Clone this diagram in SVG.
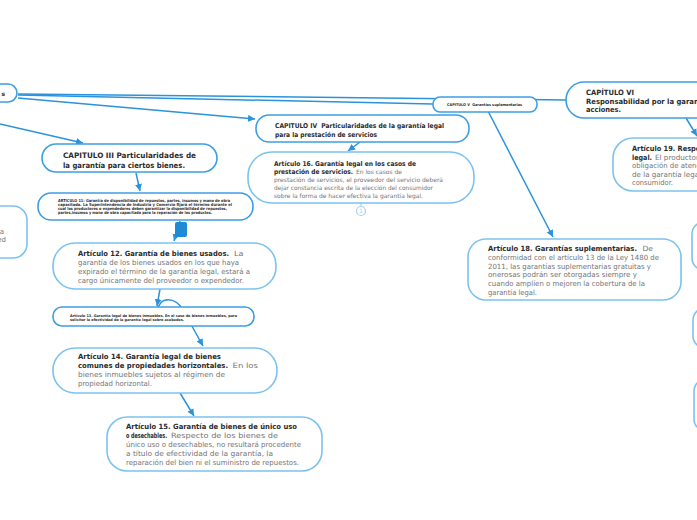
<svg xmlns="http://www.w3.org/2000/svg" width="697" height="520" viewBox="0 0 697 520">
<defs>
<marker id="ah" markerUnits="userSpaceOnUse" markerWidth="8" markerHeight="8" refX="7" refY="3.5" orient="auto"><path d="M0,0 L7,3.5 L0,7 z" fill="#2a93dc"/></marker>
<style>
.cap{fill:#fff;stroke:#3d9fe2;stroke-width:1.6}
.art{fill:#fff;stroke:#7cc2f0;stroke-width:1.6}
.c{fill:none;stroke:#2a93dc;stroke-width:1.5}
text{font-family:"DejaVu Sans","Liberation Sans",sans-serif}
.b{font-weight:bold;fill:#2b2b2b}
.r{fill:#747474}
</style>
</defs>
<rect width="697" height="520" fill="#fff"/>
<g id="connectors">
<path class="c" d="M18,94 L566,100" stroke-width="2"/>
<path class="c" d="M18,95 L433,104" stroke-width="2"/>
<path class="c" d="M18,98 L255,119" marker-end="url(#ah)"/>
<path class="c" d="M0,124 L83,143" marker-end="url(#ah)"/>
<path class="c" d="M136,173 L140,191" marker-end="url(#ah)"/>
<path class="c" d="M180,221 L174,241" marker-end="url(#ah)"/>
<path class="c" d="M160,289 L157,306" marker-end="url(#ah)"/>
<path class="c" d="M157,312 C159,295 176,297 183,310 L203,346" marker-end="url(#ah)"/>
<path class="c" d="M180,393 L194,416" marker-end="url(#ah)"/>
<path class="c" d="M360,142 L348,151" marker-end="url(#ah)"/>
<path class="c" d="M488,111 L553,237" marker-end="url(#ah)"/>
<path class="c" d="M686,118 L697,136" marker-end="url(#ah)"/>
<path d="M361,203 L361,206" stroke="#9fd2f3" stroke-width="1.2"/>
</g>
<g id="root">
<rect class="cap" x="-40" y="84" width="57" height="18" rx="9"/>
<text class="b" x="5" y="96" font-size="6" text-anchor="end">s</text>
</g>
<g id="left-node">
<rect class="art" x="-40" y="206" width="67" height="52" rx="14"/>
<text class="r" x="4" y="234" font-size="7" text-anchor="end">a</text>
<text class="r" x="6" y="242" font-size="7" text-anchor="end">ed</text>
</g>
<g id="cap3">
<rect class="cap" x="42" y="144" width="175" height="28" rx="14"/>
<text class="b" x="63" y="158" font-size="7.5" textLength="133" lengthAdjust="spacingAndGlyphs">CAPITULO III Particularidades de</text>
<text class="b" x="63" y="168" font-size="7.5" textLength="122" lengthAdjust="spacingAndGlyphs">la garantía para ciertos bienes.</text>
</g>
<g id="art11">
<rect class="cap" x="38" y="193" width="215" height="27" rx="13"/>
<text class="b" x="58" y="201.5" font-size="4" textLength="172" lengthAdjust="spacingAndGlyphs">ARTICULO 11: Garantía de disponibilidad de repuestos, partes, insumos y mano de obra</text>
<text class="b" x="58" y="205.5" font-size="4" textLength="174" lengthAdjust="spacingAndGlyphs">capacitada. La Superintendencia de Industria y Comercio fijará el término durante el</text>
<text class="b" x="58" y="209.5" font-size="4" textLength="169" lengthAdjust="spacingAndGlyphs">cual los productores o expendedores deben garantizar la disponibilidad de repuestos,</text>
<text class="b" x="58" y="213.5" font-size="4" textLength="154" lengthAdjust="spacingAndGlyphs">partes,insumos y mano de obra capacitada para la reparación de los productos.</text>
<rect x="175" y="222" width="12" height="15" rx="2" fill="#1e8ad6"/>
</g>
<g id="art12">
<rect class="art" x="53" y="243" width="223" height="46" rx="22"/>
<text class="b" x="78" y="256" font-size="7.2" textLength="151" lengthAdjust="spacingAndGlyphs">Artículo 12. Garantía de bienes usados.</text>
<text class="r" x="234" y="256" font-size="7.2" textLength="9.5" lengthAdjust="spacingAndGlyphs">La</text>
<text class="r" x="78" y="265" font-size="7.2" textLength="161" lengthAdjust="spacingAndGlyphs">garantía de los bienes usados en los que haya</text>
<text class="r" x="78" y="274" font-size="7.2" textLength="172" lengthAdjust="spacingAndGlyphs">expirado el término de la garantía legal, estará a</text>
<text class="r" x="78" y="283" font-size="7.2" textLength="166" lengthAdjust="spacingAndGlyphs">cargo únicamente del proveedor o expendedor.</text>
</g>
<g id="art13">
<rect class="cap" x="53" y="307" width="201" height="19" rx="9"/>
<text class="b" x="70" y="317" font-size="3.7" textLength="167" lengthAdjust="spacingAndGlyphs">Artículo 13. Garantía legal de bienes inmuebles. En el caso de bienes inmuebles, para</text>
<text class="b" x="70" y="321" font-size="3.7" textLength="114" lengthAdjust="spacingAndGlyphs">solicitar la efectividad de la garantía legal sobre acabados.</text>
</g>
<g id="art14">
<rect class="art" x="53" y="348" width="224" height="45" rx="22"/>
<text class="b" x="78" y="359" font-size="7.2" textLength="143" lengthAdjust="spacingAndGlyphs">Artículo 14. Garantía legal de bienes</text>
<text class="b" x="78" y="368" font-size="7.2" textLength="150" lengthAdjust="spacingAndGlyphs">comunes de propiedades horizontales.</text>
<text class="r" x="232.5" y="368" font-size="7.2" textLength="25.5" lengthAdjust="spacingAndGlyphs">En los</text>
<text class="r" x="78" y="377" font-size="7.2" textLength="147" lengthAdjust="spacingAndGlyphs">bienes inmuebles sujetos al régimen de</text>
<text class="r" x="78" y="386" font-size="7.2" textLength="74" lengthAdjust="spacingAndGlyphs">propiedad horizontal.</text>
</g>
<g id="art15">
<rect class="art" x="107" y="417" width="215" height="54" rx="20"/>
<text class="b" x="126" y="429" font-size="7.2" textLength="171" lengthAdjust="spacingAndGlyphs">Artículo 15. Garantía de bienes de único uso</text>
<text class="b" x="126" y="438" font-size="7.2" textLength="41" lengthAdjust="spacingAndGlyphs">o desechables.</text>
<text class="r" x="171" y="438" font-size="7.2" textLength="107" lengthAdjust="spacingAndGlyphs">Respecto de los bienes de</text>
<text class="r" x="126" y="447" font-size="7.2" textLength="175" lengthAdjust="spacingAndGlyphs">único uso o desechables, no resultará procedente</text>
<text class="r" x="126" y="456" font-size="7.2" textLength="147" lengthAdjust="spacingAndGlyphs">a título de efectividad de la garantía, la</text>
<text class="r" x="126" y="465" font-size="7.2" textLength="173" lengthAdjust="spacingAndGlyphs">reparación del bien ni el suministro de repuestos.</text>
</g>
<g id="cap4">
<rect class="cap" x="256" y="115" width="213" height="27" rx="13"/>
<text class="b" x="275" y="128" font-size="6.6" textLength="169" lengthAdjust="spacingAndGlyphs">CAPITULO IV&#160; Particularidades de la garantía legal</text>
<text class="b" x="275" y="137" font-size="6.6" textLength="102" lengthAdjust="spacingAndGlyphs">para la prestación de servicios</text>
</g>
<g id="art16">
<rect class="art" x="248" y="152" width="226" height="51" rx="24"/>
<text class="b" x="274" y="166" font-size="6.6" textLength="142" lengthAdjust="spacingAndGlyphs">Artículo 16. Garantía legal en los casos de</text>
<text class="b" x="274" y="174" font-size="6.6" textLength="79" lengthAdjust="spacingAndGlyphs">prestación de servicios.</text>
<text class="r" x="356" y="174" font-size="6" textLength="46" lengthAdjust="spacingAndGlyphs">En los casos de</text>
<text class="r" x="274" y="182" font-size="6" textLength="169" lengthAdjust="spacingAndGlyphs">prestación de servicios, el proveedor del servicio deberá</text>
<text class="r" x="274" y="190" font-size="6" textLength="159" lengthAdjust="spacingAndGlyphs">dejar constancia escrita de la elección del consumidor</text>
<text class="r" x="274" y="197.5" font-size="6" textLength="149" lengthAdjust="spacingAndGlyphs">sobre la forma de hacer efectiva la garantía legal.</text>
<circle cx="361" cy="211" r="4.5" fill="#fff" stroke="#9fd2f3" stroke-width="1.2"/>
<text x="361" y="213.3" font-size="6" text-anchor="middle" fill="#9fd2f3">1</text>
</g>
<g id="cap5">
<rect class="cap" x="433" y="97" width="104" height="15" rx="7"/>
<text class="b" x="447" y="106" font-size="3.8" textLength="75" lengthAdjust="spacingAndGlyphs">CAPITULO V&#160; Garantías suplementarias</text>
</g>
<g id="art18">
<rect class="art" x="468" y="239" width="213" height="61" rx="18"/>
<text class="b" x="488" y="251" font-size="7.2" textLength="149" lengthAdjust="spacingAndGlyphs">Artículo 18. Garantías suplementarias.</text>
<text class="r" x="642.5" y="251" font-size="7.2" textLength="10.5" lengthAdjust="spacingAndGlyphs">De</text>
<text class="r" x="488" y="260" font-size="7.2" textLength="171" lengthAdjust="spacingAndGlyphs">conformidad con el artículo 13 de la Ley 1480 de</text>
<text class="r" x="488" y="268.5" font-size="7.2" textLength="163" lengthAdjust="spacingAndGlyphs">2011, las garantías suplementarias gratuitas y</text>
<text class="r" x="488" y="277" font-size="7.2" textLength="149" lengthAdjust="spacingAndGlyphs">onerosas podrán ser otorgadas siempre y</text>
<text class="r" x="488" y="286" font-size="7.2" textLength="157" lengthAdjust="spacingAndGlyphs">cuando amplíen o mejoren la cobertura de la</text>
<text class="r" x="488" y="294.5" font-size="7.2" textLength="49" lengthAdjust="spacingAndGlyphs">garantía legal.</text>
</g>
<g id="cap6">
<rect class="cap" x="566" y="82" width="160" height="36" rx="18"/>
<text class="b" x="586" y="94.5" font-size="7.3" textLength="48" lengthAdjust="spacingAndGlyphs">CAPÍTULO VI</text>
<text class="b" x="586" y="103.5" font-size="7.3" textLength="123" lengthAdjust="spacingAndGlyphs">Responsabilidad por la garantía</text>
<text class="b" x="586" y="112" font-size="7.3" textLength="35" lengthAdjust="spacingAndGlyphs">acciones.</text>
</g>
<g id="art19">
<rect class="art" x="613" y="138" width="120" height="53" rx="20"/>
<text class="b" x="632" y="151" font-size="7.2" textLength="107" lengthAdjust="spacingAndGlyphs">Artículo 19. Responsabilidad</text>
<text class="b" x="632" y="160" font-size="7.2" textLength="20" lengthAdjust="spacingAndGlyphs">legal.</text>
<text class="r" x="655" y="160" font-size="7.2" textLength="44" lengthAdjust="spacingAndGlyphs">El productor</text>
<text class="r" x="632" y="168" font-size="7.2" textLength="76" lengthAdjust="spacingAndGlyphs">obligación de atender</text>
<text class="r" x="632" y="177" font-size="7.2" textLength="69" lengthAdjust="spacingAndGlyphs">de la garantía legal</text>
<text class="r" x="632" y="185" font-size="7.2" textLength="41" lengthAdjust="spacingAndGlyphs">consumidor.</text>
</g>
<g id="right-nodes">
<rect class="art" x="692" y="222" width="60" height="48" rx="12"/>
<rect class="art" x="693" y="308" width="60" height="40" rx="12"/>
<rect class="art" x="694" y="379" width="60" height="52" rx="12"/>
</g>
</svg>
